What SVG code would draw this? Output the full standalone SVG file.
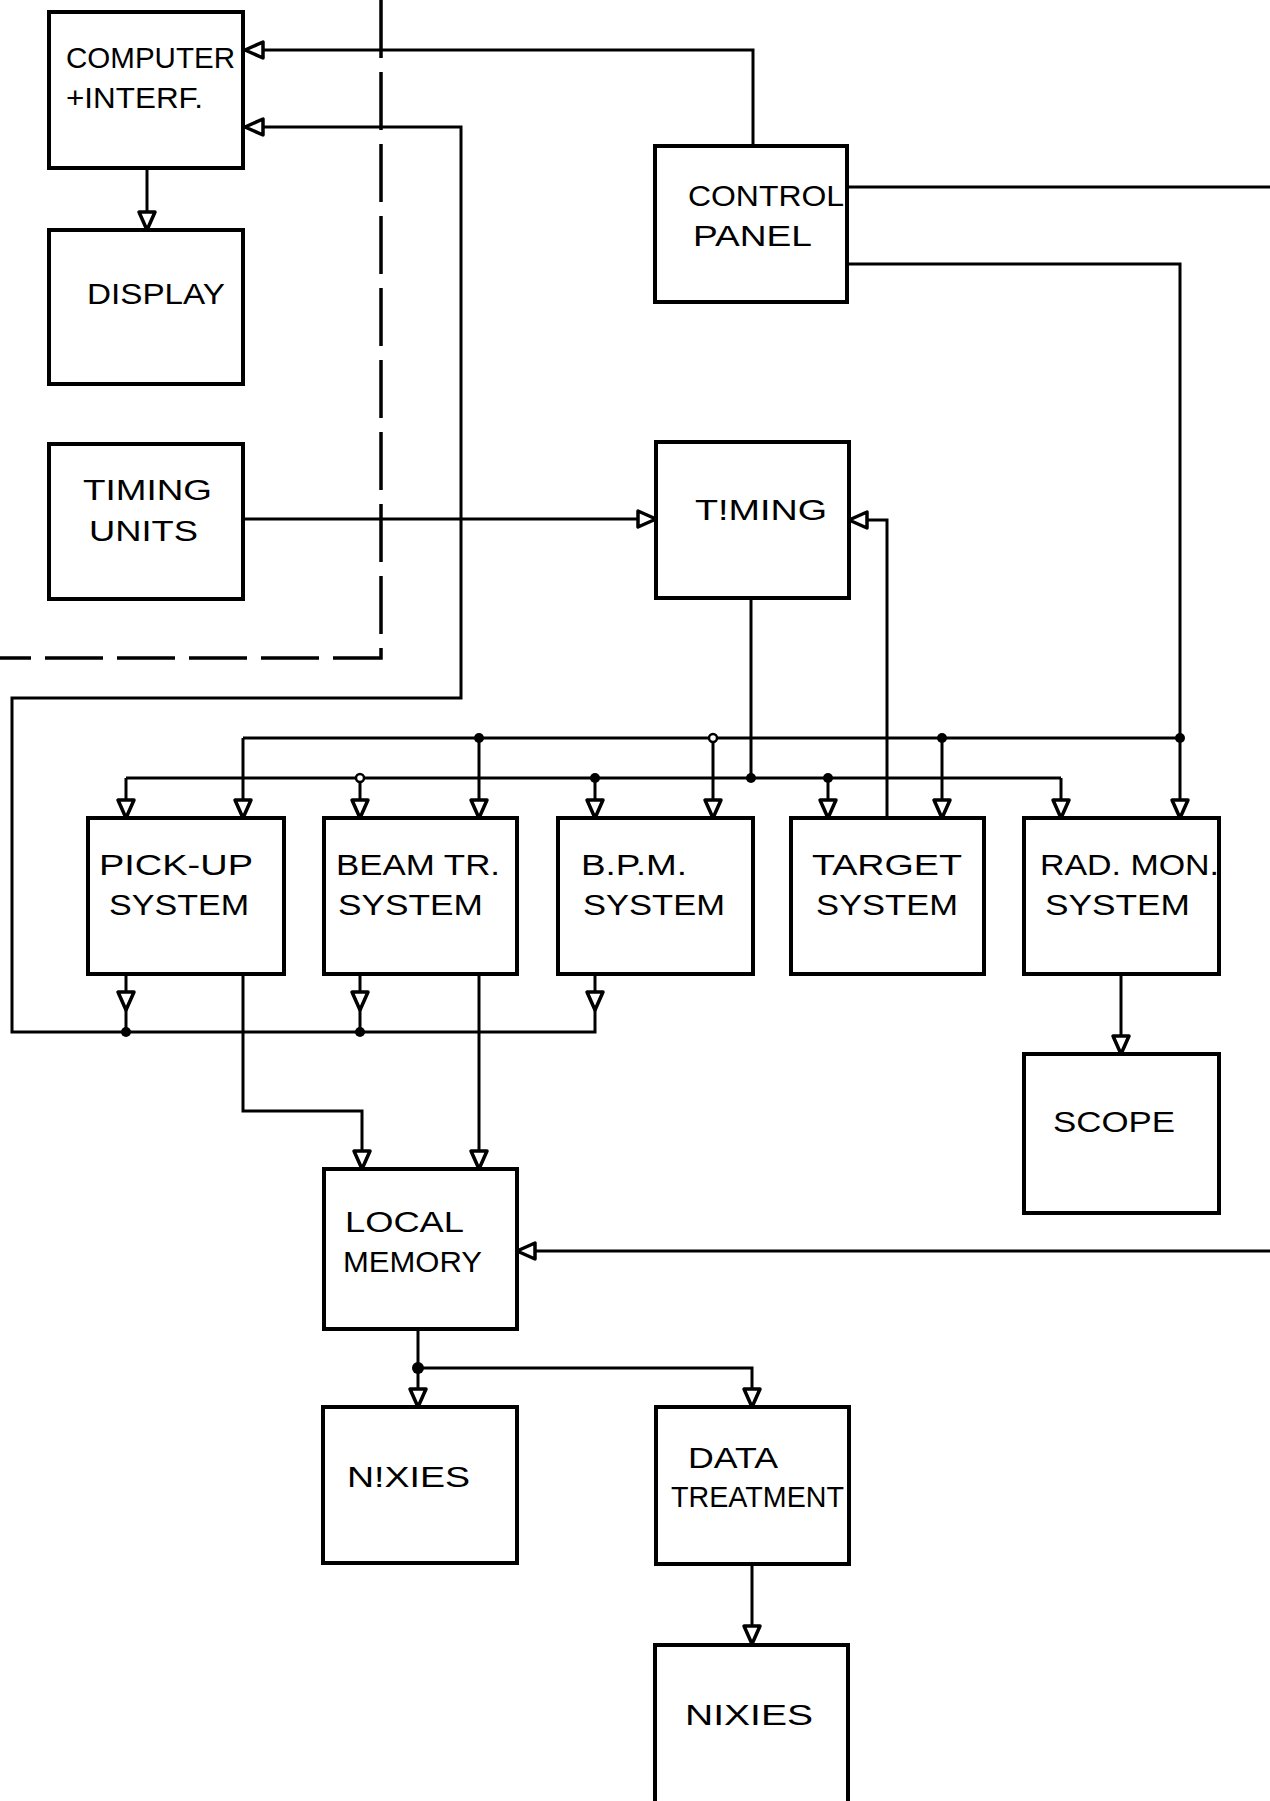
<svg xmlns="http://www.w3.org/2000/svg" width="1270" height="1801" viewBox="0 0 1270 1801">
<style>
.box{fill:#fff;stroke:#000;stroke-width:4}
.ln{fill:none;stroke:#000;stroke-width:3}
.dash{fill:none;stroke:#000;stroke-width:3.5}
.t{font-family:"Liberation Sans",Arial,sans-serif;font-size:29px;fill:#000}
.dot{fill:#000}
.odot{fill:#fff;stroke:#000;stroke-width:2.5}
</style>
<defs>
<marker id="ah" markerUnits="userSpaceOnUse" markerWidth="24" markerHeight="24" viewBox="0 0 24 24" refX="21" refY="12" orient="auto">
<path d="M3,4 L21,12 L3,20 Z" fill="#fff" stroke="#000" stroke-width="3.5" stroke-linejoin="round"/>
</marker>
</defs>
<rect width="1270" height="1801" fill="#fff"/>

<path class="dash" d="M381,0 V658 H0" stroke-dasharray="58 14"/>

<g id="connectors">
<path class="ln" d="M753,146 V50 H245" marker-end="url(#ah)"/>
<path class="ln" d="M147,168 V230" marker-end="url(#ah)"/>
<path class="ln" d="M595,1008 V1032 H12 V698 H461 V127 H245" marker-end="url(#ah)"/>
<path class="ln" d="M126,974 V1010" marker-end="url(#ah)"/>
<path class="ln" d="M126,1006 V1032"/>
<path class="ln" d="M360,974 V1010" marker-end="url(#ah)"/>
<path class="ln" d="M360,1006 V1032"/>
<path class="ln" d="M595,974 V1010" marker-end="url(#ah)"/>
<path class="ln" d="M243,519 H656" marker-end="url(#ah)"/>
<path class="ln" d="M887,818 V520 H849" marker-end="url(#ah)"/>
<path class="ln" d="M751,598 V778"/>
<path class="ln" d="M847,187 H1270"/>
<path class="ln" d="M847,264 H1180 V818" marker-end="url(#ah)"/>
<path class="ln" d="M243,738 H1180"/>
<path class="ln" d="M243,738 V818" marker-end="url(#ah)"/>
<path class="ln" d="M479,738 V818" marker-end="url(#ah)"/>
<path class="ln" d="M713,738 V818" marker-end="url(#ah)"/>
<path class="ln" d="M942,738 V818" marker-end="url(#ah)"/>
<path class="ln" d="M126,778 H1061"/>
<path class="ln" d="M126,778 V818" marker-end="url(#ah)"/>
<path class="ln" d="M360,778 V818" marker-end="url(#ah)"/>
<path class="ln" d="M595,778 V818" marker-end="url(#ah)"/>
<path class="ln" d="M828,778 V818" marker-end="url(#ah)"/>
<path class="ln" d="M1061,778 V818" marker-end="url(#ah)"/>
<path class="ln" d="M243,974 V1111 H362 V1169" marker-end="url(#ah)"/>
<path class="ln" d="M479,974 V1169" marker-end="url(#ah)"/>
<path class="ln" d="M1270,1251 H517" marker-end="url(#ah)"/>
<path class="ln" d="M1121,974 V1054" marker-end="url(#ah)"/>
<path class="ln" d="M418,1329 V1407" marker-end="url(#ah)"/>
<path class="ln" d="M418,1368 H752 V1407" marker-end="url(#ah)"/>
<path class="ln" d="M752,1564 V1644" marker-end="url(#ah)"/>
<circle class="dot" cx="479" cy="738" r="5"/>
<circle class="odot" cx="713" cy="738" r="4"/>
<circle class="dot" cx="942" cy="738" r="5"/>
<circle class="dot" cx="1180" cy="738" r="5"/>
<circle class="odot" cx="360" cy="778" r="4"/>
<circle class="dot" cx="595" cy="778" r="5"/>
<circle class="dot" cx="751" cy="778" r="5"/>
<circle class="dot" cx="828" cy="778" r="5"/>
<circle class="dot" cx="126" cy="1032" r="5"/>
<circle class="dot" cx="360" cy="1032" r="5"/>
<circle class="dot" cx="418" cy="1368" r="6"/>
</g>

<g id="computer"><rect class="box" x="49" y="12" width="194" height="156"/>
<text class="t" x="66" y="68" textLength="169" lengthAdjust="spacingAndGlyphs">COMPUTER</text>
<text class="t" x="66" y="108" textLength="137" lengthAdjust="spacingAndGlyphs">+INTERF.</text></g>
<g id="display"><rect class="box" x="49" y="230" width="194" height="154"/>
<text class="t" x="87" y="304" textLength="138" lengthAdjust="spacingAndGlyphs">DISPLAY</text></g>
<g id="timing-units"><rect class="box" x="49" y="444" width="194" height="155"/>
<text class="t" x="83" y="500" textLength="129" lengthAdjust="spacingAndGlyphs">TIMING</text>
<text class="t" x="89" y="541" textLength="109" lengthAdjust="spacingAndGlyphs">UNITS</text></g>
<g id="control-panel"><rect class="box" x="655" y="146" width="192" height="156"/>
<text class="t" x="688" y="206" textLength="156" lengthAdjust="spacingAndGlyphs">CONTROL</text>
<text class="t" x="693" y="246" textLength="119" lengthAdjust="spacingAndGlyphs">PANEL</text></g>
<g id="timing"><rect class="box" x="656" y="442" width="193" height="156"/>
<text class="t" x="695" y="520" textLength="132" lengthAdjust="spacingAndGlyphs">T!MING</text></g>
<g id="pickup"><rect class="box" x="88" y="818" width="196" height="156"/>
<text class="t" x="99" y="875" textLength="154" lengthAdjust="spacingAndGlyphs">PICK-UP</text>
<text class="t" x="109" y="915" textLength="140" lengthAdjust="spacingAndGlyphs">SYSTEM</text></g>
<g id="beamtr"><rect class="box" x="324" y="818" width="193" height="156"/>
<text class="t" x="336" y="875" textLength="164" lengthAdjust="spacingAndGlyphs">BEAM TR.</text>
<text class="t" x="338" y="915" textLength="145" lengthAdjust="spacingAndGlyphs">SYSTEM</text></g>
<g id="bpm"><rect class="box" x="558" y="818" width="195" height="156"/>
<text class="t" x="581" y="875" textLength="106" lengthAdjust="spacingAndGlyphs">B.P.M.</text>
<text class="t" x="583" y="915" textLength="142" lengthAdjust="spacingAndGlyphs">SYSTEM</text></g>
<g id="target"><rect class="box" x="791" y="818" width="193" height="156"/>
<text class="t" x="812" y="875" textLength="150" lengthAdjust="spacingAndGlyphs">TARGET</text>
<text class="t" x="816" y="915" textLength="142" lengthAdjust="spacingAndGlyphs">SYSTEM</text></g>
<g id="radmon"><rect class="box" x="1024" y="818" width="195" height="156"/>
<text class="t" x="1040" y="875" textLength="179" lengthAdjust="spacingAndGlyphs">RAD. MON.</text>
<text class="t" x="1045" y="915" textLength="145" lengthAdjust="spacingAndGlyphs">SYSTEM</text></g>
<g id="scope"><rect class="box" x="1024" y="1054" width="195" height="159"/>
<text class="t" x="1053" y="1132" textLength="122" lengthAdjust="spacingAndGlyphs">SCOPE</text></g>
<g id="local-memory"><rect class="box" x="324" y="1169" width="193" height="160"/>
<text class="t" x="345" y="1232" textLength="119" lengthAdjust="spacingAndGlyphs">LOCAL</text>
<text class="t" x="343" y="1272" textLength="139" lengthAdjust="spacingAndGlyphs">MEMORY</text></g>
<g id="nixies1"><rect class="box" x="323" y="1407" width="194" height="156"/>
<text class="t" x="347" y="1487" textLength="123" lengthAdjust="spacingAndGlyphs">N!XIES</text></g>
<g id="data-treatment"><rect class="box" x="656" y="1407" width="193" height="157"/>
<text class="t" x="688" y="1468" textLength="90" lengthAdjust="spacingAndGlyphs">DATA</text>
<text class="t" x="671" y="1507" textLength="173" lengthAdjust="spacingAndGlyphs">TREATMENT</text></g>
<g id="nixies2"><rect class="box" x="655" y="1645" width="193" height="160"/>
<text class="t" x="685" y="1725" textLength="128" lengthAdjust="spacingAndGlyphs">NIXIES</text></g>
</svg>
